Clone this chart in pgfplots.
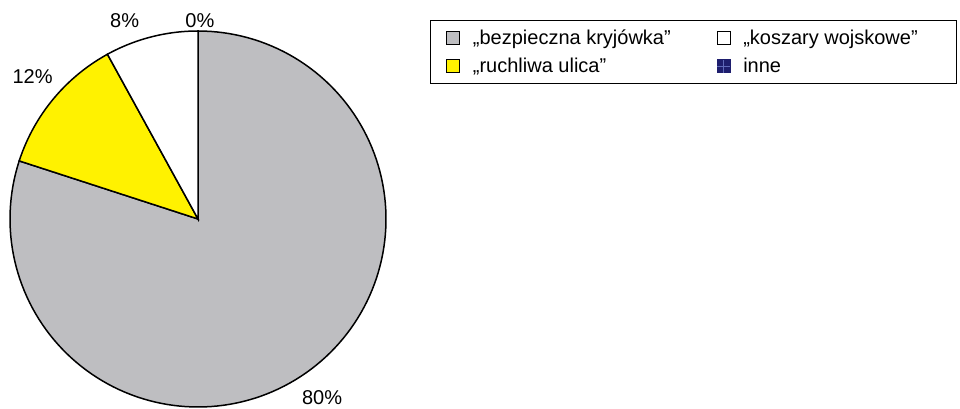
\documentclass[border=0pt]{standalone}
\usepackage{pgfplots}
\pgfplotsset{compat=1.18}
\usepackage{fontspec}
\setmainfont{Liberation Sans}
\definecolor{pgray}{RGB}{190,190,193}
\definecolor{pyellow}{RGB}{255,242,0}
\definecolor{pnavy}{RGB}{30,30,110}
\definecolor{pnavyl}{RGB}{95,105,185}
\begin{document}
\begin{tikzpicture}
\useasboundingbox (0,0) rectangle (960bp,409bp);
% shares in percent
\def\vA{80}% bezpieczna kryjowka
\def\vB{12}% ruchliwa ulica
\def\vC{8}%  koszary wojskowe
\def\vD{0}%  inne
\pgfmathsetmacro\aA{90-3.6*\vA}
\pgfmathsetmacro\aB{\aA-3.6*\vB}
\pgfmathsetmacro\aC{\aB-3.6*\vC}
\begin{axis}[
  at={(198bp,190bp)}, anchor=origin,
  x=188bp, y=188bp,
  xmin=-1.05, xmax=1.05, ymin=-1.05, ymax=1.05,
  hide axis, clip=false,
  font=\fontsize{20bp}{24bp}\selectfont,
  legend columns=2,
  legend style={
    at={(axis description cs:1.0877,1.004)}, anchor=north west,
    draw=black, line width=0.8bp,
    font=\fontsize{20bp}{24bp}\selectfont,
    inner xsep=16bp, inner ysep=7.5bp,
    row sep=8bp,
    /tikz/every even column/.append style={column sep=44bp},
  },
  legend cell align=left,
]
\addplot[forget plot, fill=pgray, draw=black, line width=1.5bp, domain=\aA:90, samples=150]
  ({cos(x)},{sin(x)}) -- (axis cs:0,0) -- cycle;
\addplot[forget plot, fill=pyellow, draw=black, line width=1.5bp, domain=\aB:\aA, samples=30]
  ({cos(x)},{sin(x)}) -- (axis cs:0,0) -- cycle;
\addplot[forget plot, fill=white, draw=black, line width=1.5bp, domain=\aC:\aB, samples=30]
  ({cos(x)},{sin(x)}) -- (axis cs:0,0) -- cycle;

\addlegendimage{legend image code/.code={\filldraw[fill=pgray,draw=black,line width=1bp] (0,-6.5bp) rectangle (13bp,6.5bp); \path[draw=none] (0,0) -- (24bp,0);}}
\addlegendentry{„bezpieczna kryjówka”}
\addlegendimage{legend image code/.code={\filldraw[fill=white,draw=black,line width=1bp] (0,-6.5bp) rectangle (13bp,6.5bp); \path[draw=none] (0,0) -- (24bp,0);}}
\addlegendentry{\makebox[195bp][l]{„koszary wojskowe”}}
\addlegendimage{legend image code/.code={\filldraw[fill=pyellow,draw=black,line width=1bp] (0,-6.5bp) rectangle (13bp,6.5bp); \path[draw=none] (0,0) -- (24bp,0);}}
\addlegendentry{„ruchliwa ulica”}
\addlegendimage{legend image code/.code={\fill[pnavy] (0,-6.5bp) rectangle (13bp,6.5bp); \draw[pnavyl,line width=1bp] (6.5bp,-6.5bp) -- (6.5bp,6.5bp) (0,0) -- (13bp,0); \path[draw=none] (0,0) -- (24bp,0);}}
\addlegendentry{inne}

\node at (axis cs:0.66,-0.95) {\vA\%};
\node at (axis cs:-0.88,0.755) {\vB\%};
\node at (axis cs:-0.39,1.055) {\vC\%};
\node at (axis cs:0.01,1.055) {\vD\%};
\end{axis}
\end{tikzpicture}
\end{document}
